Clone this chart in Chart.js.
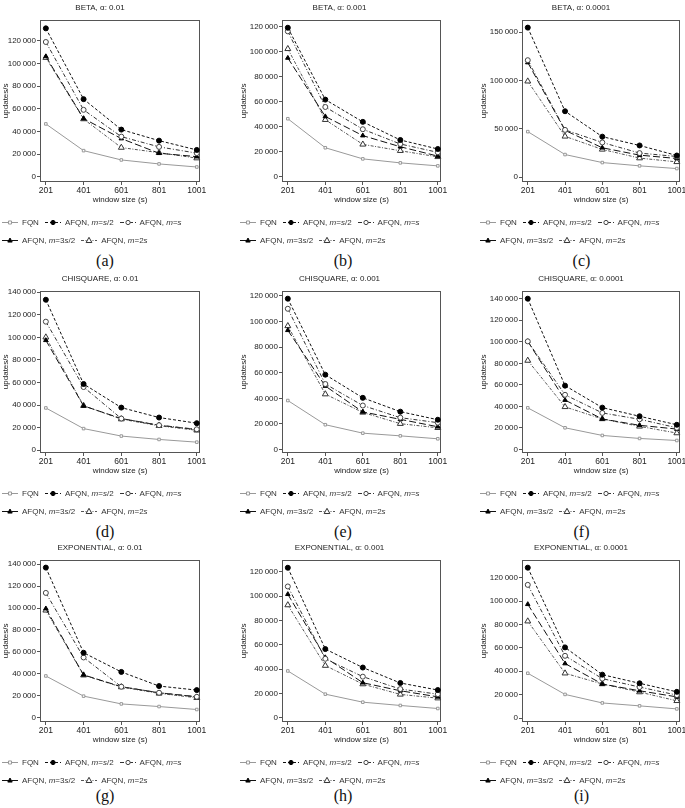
<!DOCTYPE html>
<html>
<head>
<meta charset="utf-8">
<script src="https://cdn.jsdelivr.net/npm/chart.js@4.4.1/dist/chart.umd.min.js"></script>
<style>
  body { margin: 0; background: #fff; width: 685px; height: 808px; position: relative; overflow: hidden;
         font-family: 'Liberation Sans', Arial, sans-serif; }
  .panel { position: absolute; height: 270px; }
  .panel > canvas { position: absolute; left: 0; top: 0; }
  .leg { position: absolute; left: 2px; font-size: 8px; color: #333; white-space: nowrap; display: flex; align-items: center;
         height: 10px; will-change: transform; -webkit-font-smoothing: antialiased; }
  .leg .item { display: inline-flex; align-items: center; margin-right: 6px; }
  .leg canvas { margin-right: 4px; }
  .cap { position: absolute; left: 0; width: 100%; text-align: center; font-family: 'Liberation Serif', serif; font-size: 16px; color: #111; }
</style>
</head>
<body>
<script>
// axes
const xValues = [201, 401, 601, 801, 1001];
const yTicks120 = [0, 20000, 40000, 60000, 80000, 100000, 120000];
const yTicks140 = [0, 20000, 40000, 60000, 80000, 100000, 120000, 140000];
const yTicks150 = [0, 50000, 100000, 150000];

// (a) BETA, 0.01
const fqnA = [46700, 23200, 15000, 11500, 8800];
const halfA = [130800, 68500, 41700, 32000, 23800];
const fullA = [118800, 59100, 35500, 26500, 21000];
const threeHalfA = [106100, 51400, 33800, 20900, 17900];
const doubleA = [105000, 51000, 25900, 21400, 16600];
// (b) BETA, 0.001
const fqnB = [46600, 23400, 14500, 11300, 8900];
const halfB = [119400, 61900, 44100, 29600, 22400];
const fullB = [116500, 56000, 38200, 26400, 19700];
const threeHalfB = [95200, 48400, 33100, 24200, 16700];
const doubleB = [102500, 45800, 26100, 21000, 16100];
// (c) BETA, 0.0001
const fqnC = [47200, 23500, 15200, 11800, 9000];
const halfC = [154800, 68300, 42000, 32900, 22500];
const fullC = [121100, 49000, 36000, 25000, 21500];
const threeHalfC = [118700, 48500, 30500, 22900, 19400];
const doubleC = [99300, 42300, 28800, 19800, 15900];
// (d) CHISQUARE, 0.01
const fqnD = [37500, 19200, 12600, 9600, 7200];
const halfD = [133300, 58700, 37800, 29000, 24000];
const fullD = [113900, 56000, 28100, 22200, 18600];
const threeHalfD = [97400, 39300, 28100, 22200, 18300];
const doubleD = [100100, 39500, 27600, 21700, 17700];
// (e) CHISQUARE, 0.001
const fqnE = [38300, 19400, 12800, 10700, 8400];
const halfE = [117900, 58500, 40400, 29600, 23300];
const fullE = [110000, 51200, 34400, 24900, 21000];
const threeHalfE = [93200, 49600, 29400, 23600, 17800];
const doubleE = [96600, 43300, 29000, 20200, 17000];
// (f) CHISQUARE, 0.0001
const fqnF = [38700, 20200, 13100, 10300, 8400];
const halfF = [140000, 59300, 38900, 30900, 23000];
const fullF = [100400, 50800, 34000, 28100, 20200];
const threeHalfF = [100400, 45900, 28400, 22500, 19000];
const doubleF = [82600, 39600, 28400, 21500, 15300];
// (g) EXPONENTIAL, 0.01
const fqnG = [38000, 19600, 12500, 10100, 7400];
const halfG = [136900, 59200, 41700, 28800, 25100];
const fullG = [113800, 54900, 28200, 22700, 19000];
const threeHalfG = [99500, 39000, 28200, 22700, 19000];
const doubleG = [97900, 38700, 27900, 22100, 18100];
// (h) EXPONENTIAL, 0.001
const fqnH = [38400, 19300, 12700, 10000, 7500];
const halfH = [123300, 56400, 41200, 28500, 22700];
const fullH = [107900, 48400, 33700, 23500, 19300];
const threeHalfH = [101500, 49500, 28700, 22100, 17100];
const doubleH = [92600, 42800, 27600, 19100, 16000];
// (i) EXPONENTIAL, 0.0001
const fqnI = [38300, 20200, 12900, 10400, 7800];
const halfI = [128600, 60400, 37100, 29700, 22400];
const fullI = [113900, 53200, 33700, 26500, 19600];
const threeHalfI = [97300, 46600, 29100, 23300, 18100];
const doubleI = [82800, 38300, 29100, 22200, 14700];

const FONT = "'Liberation Sans', Arial, sans-serif";

// series styles: FQN, m=s/2, m=s, m=3s/2, m=2s
const seriesStyles = [
  { label: 'FQN', html: 'FQN', line: '#999', dash: [], point: 'rect', r: 1.8, fill: '#fff', stroke: '#999' },
  { label: 'AFQN, m=s/2', html: 'AFQN, <i>m</i>=<i>s</i>/2', line: '#111', dash: [3, 2], point: 'circle', r: 2.5, fill: '#000', stroke: '#000' },
  { label: 'AFQN, m=s', html: 'AFQN, <i>m</i>=<i>s</i>', line: '#333', dash: [4, 2, 1, 2], point: 'circle', r: 2.5, fill: '#fff', stroke: '#444' },
  { label: 'AFQN, m=3s/2', html: 'AFQN, <i>m</i>=3<i>s</i>/2', line: '#111', dash: [7, 3], point: 'triangle', r: 2.6, fill: '#000', stroke: '#000' },
  { label: 'AFQN, m=2s', html: 'AFQN, <i>m</i>=2<i>s</i>', line: '#555', dash: [3, 1.5, 1, 1.5], point: 'triangle', r: 3.4, fill: '#fff', stroke: '#333' }
];

const cols = [
  { left: 0, w: 210, yw: 40, padR: 10 },
  { left: 238, w: 210, yw: 44, padR: 7 },
  { left: 478, w: 207, yw: 44, padR: 1 }
];
const rowTops = [0, 271, 540];
const capTops = [252, 252, 247];

const panels = [
  { tag: '(a)', title: 'BETA, α: 0.01', yMin: -4400, yMax: 138500, ticks: yTicks120, values: [fqnA, halfA, fullA, threeHalfA, doubleA] },
  { tag: '(b)', title: 'BETA, α: 0.001', yMin: -4000, yMax: 125900, ticks: yTicks120, values: [fqnB, halfB, fullB, threeHalfB, doubleB] },
  { tag: '(c)', title: 'BETA, α: 0.0001', yMin: -4900, yMax: 163100, ticks: yTicks150, values: [fqnC, halfC, fullC, threeHalfC, doubleC] },
  { tag: '(d)', title: 'CHISQUARE, α: 0.01', yMin: -2400, yMax: 141400, ticks: yTicks140, values: [fqnD, halfD, fullD, threeHalfD, doubleD] },
  { tag: '(e)', title: 'CHISQUARE, α: 0.001', yMin: -2700, yMax: 124200, ticks: yTicks120, values: [fqnE, halfE, fullE, threeHalfE, doubleE] },
  { tag: '(f)', title: 'CHISQUARE, α: 0.0001', yMin: -3200, yMax: 147500, ticks: yTicks140, values: [fqnF, halfF, fullF, threeHalfF, doubleF] },
  { tag: '(g)', title: 'EXPONENTIAL, α: 0.01', yMin: -4000, yMax: 144200, ticks: yTicks140, values: [fqnG, halfG, fullG, threeHalfG, doubleG] },
  { tag: '(h)', title: 'EXPONENTIAL, α: 0.001', yMin: -3600, yMax: 130000, ticks: yTicks120, values: [fqnH, halfH, fullH, threeHalfH, doubleH] },
  { tag: '(i)', title: 'EXPONENTIAL, α: 0.0001', yMin: -3400, yMax: 135500, ticks: yTicks120, values: [fqnI, halfI, fullI, threeHalfI, doubleI] }
];

// nombres avec espace fine : 120 000
function fmt(v) {
  if (v < 1000) return String(v);
  return Math.floor(v / 1000) + '\u2009' + String(v % 1000).padStart(3, '0');
}

// cadre autour de la zone de tracé
const framePlugin = {
  id: 'frame',
  beforeDatasetsDraw(chart) {
    const { ctx, chartArea: a } = chart;
    ctx.save();
    ctx.strokeStyle = '#555';
    ctx.lineWidth = 1;
    ctx.strokeRect(Math.round(a.left) + 0.5, Math.round(a.top) + 0.5, Math.round(a.right - a.left) - 1, Math.round(a.bottom - a.top) - 1);
    ctx.restore();
  }
};

// petit échantillon de légende : trait + marqueur
function legendSample(s, w) {
  const c = document.createElement('canvas');
  c.width = w; c.height = 10;
  const g = c.getContext('2d');
  g.strokeStyle = s.line; g.lineWidth = 1; g.setLineDash(s.dash);
  g.beginPath(); g.moveTo(0, 5.5); g.lineTo(w, 5.5); g.stroke();
  g.setLineDash([]);
  g.fillStyle = s.fill; g.strokeStyle = s.stroke;
  const cx = w / 2, cy = 5.5, r = s.r * 0.85;
  g.beginPath();
  if (s.point === 'rect') g.rect(cx - r, cy - r, 2 * r, 2 * r);
  else if (s.point === 'circle') g.arc(cx, cy, r, 0, Math.PI * 2);
  else { g.moveTo(cx, cy - r * 1.1); g.lineTo(cx + r, cy + r * 0.7); g.lineTo(cx - r, cy + r * 0.7); g.closePath(); }
  g.fill(); g.stroke();
  return c;
}

panels.forEach((p, idx) => {
  const col = cols[idx % 3];
  const rowIdx = Math.floor(idx / 3);
  const top = rowTops[rowIdx];
  const div = document.createElement('div');
  div.className = 'panel';
  div.style.left = col.left + 'px';
  div.style.top = top + 'px';
  div.style.width = col.w + 'px';
  document.body.appendChild(div);

  const canvas = document.createElement('canvas');
  canvas.width = col.w; canvas.height = 206;
  canvas.style.width = col.w + 'px'; canvas.style.height = '206px';
  div.appendChild(canvas);

  new Chart(canvas, {
    type: 'line',
    data: {
      datasets: seriesStyles.map((s, i) => ({
        label: s.label,
        data: xValues.map((x, j) => ({ x: x, y: p.values[i][j] })),
        borderColor: s.line,
        borderWidth: 1,
        borderDash: s.dash,
        pointStyle: s.point,
        pointRadius: s.r,
        pointBackgroundColor: s.fill,
        pointBorderColor: s.stroke,
        pointBorderWidth: 1,
        tension: 0,
        fill: false,
        clip: false
      }))
    },
    options: {
      responsive: false,
      animation: false,
      events: [],
      layout: { padding: { left: 0, right: col.padR, top: 0, bottom: 0 } },
      plugins: {
        legend: { display: false },
        tooltip: { enabled: false },
        title: { display: true, text: p.title, color: '#222', font: { family: FONT, size: 8, weight: 'normal' }, padding: { top: 3, bottom: 7 } }
      },
      scales: {
        x: {
          type: 'linear', min: 170, max: 1018,
          afterBuildTicks: (s) => { s.ticks = xValues.map(v => ({ value: v })); },
          afterFit: (s) => { s.height = 24; s.paddingLeft = 0; s.paddingRight = 0; },
          ticks: { color: '#222', font: { family: FONT, size: 8.5 }, padding: 1, maxRotation: 0, autoSkip: false, callback: (v) => String(v) },
          grid: { drawOnChartArea: false, tickLength: 3, color: '#555' },
          border: { display: false },
          title: { display: true, text: 'window size (s)', color: '#222', font: { family: FONT, size: 8 }, padding: { top: 0, bottom: 1 } }
        },
        y: {
          min: p.yMin, max: p.yMax,
          afterBuildTicks: (s) => { s.ticks = p.ticks.map(v => ({ value: v })); },
          afterFit: (s) => { s.width = col.yw; },
          ticks: { color: '#222', font: { family: FONT, size: 8 }, padding: 1, autoSkip: false, callback: (v) => fmt(v) },
          grid: { drawOnChartArea: false, tickLength: 3, color: '#555' },
          border: { display: false },
          title: { display: true, text: 'updates/s', color: '#222', font: { family: FONT, size: 8 }, padding: { top: 1, bottom: 0 } }
        }
      }
    },
    plugins: [framePlugin]
  });

  // légende sur deux lignes
  const rows = [[0, 1, 2], [3, 4]];
  rows.forEach((r, ri) => {
    const leg = document.createElement('div');
    leg.className = 'leg';
    leg.style.top = (ri === 0 ? 217 : 235) + 'px';
    r.forEach(i => {
      const item = document.createElement('span');
      item.className = 'item';
      item.appendChild(legendSample(seriesStyles[i], 16));
      const t = document.createElement('span');
      t.innerHTML = seriesStyles[i].html;
      item.appendChild(t);
      leg.appendChild(item);
    });
    div.appendChild(leg);
  });

  const cap = document.createElement('div');
  cap.className = 'cap';
  cap.style.top = capTops[rowIdx] + 'px';
  cap.textContent = p.tag;
  div.appendChild(cap);
});
</script>
</body>
</html>
